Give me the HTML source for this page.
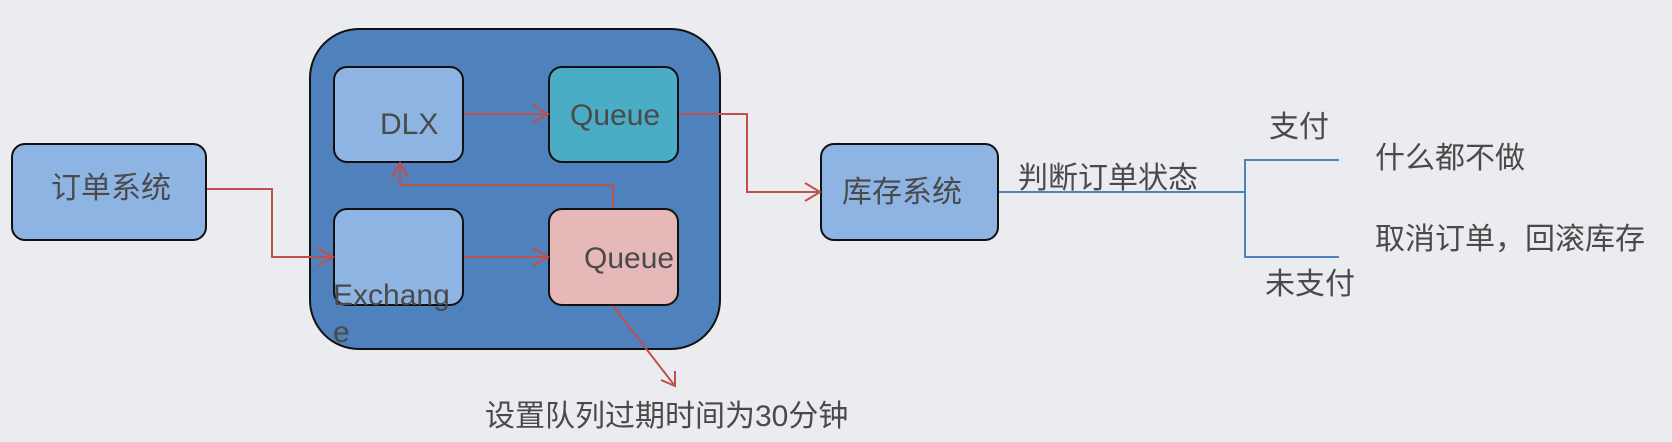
<!DOCTYPE html>
<html><head><meta charset="utf-8"><style>
body{margin:0;width:1672px;height:442px;background:#ebecf0;position:relative;overflow:hidden;font-family:"Liberation Sans","Noto Sans CJK SC",sans-serif;color:#4a4a4a}
.b{position:absolute;border:2px solid #111;border-radius:14px;box-sizing:border-box}
.t{position:absolute;font-size:30px;white-space:nowrap;line-height:1}
</style></head><body>
<div class="b" style="left:309px;top:28px;width:412px;height:322px;background:#4f81bd;border-radius:50px"></div>
<div class="b" style="left:11px;top:143px;width:196px;height:98px;background:#8eb4e3"></div>
<div class="b" style="left:333px;top:66px;width:131px;height:97px;background:#8eb4e3"></div>
<div class="b" style="left:548px;top:66px;width:131px;height:97px;background:#4bacc6"></div>
<div class="b" style="left:333px;top:208px;width:131px;height:98px;background:#8eb4e3"></div>
<div class="b" style="left:548px;top:208px;width:131px;height:98px;background:#e6b9b8"></div>
<div class="b" style="left:820px;top:143px;width:179px;height:98px;background:#8eb4e3"></div>
<svg width="1672" height="442" style="position:absolute;left:0;top:0">
<g fill="none" stroke="#c0504d" stroke-width="2">
<polyline points="207,189 272,189 272,257 333,257"/><polyline points="318,248 333,257 318,266"/>
<polyline points="464,114 548,114"/><polyline points="533,105 548,114 533,123"/>
<polyline points="464,257 548,257"/><polyline points="533,248 548,257 533,266"/>
<polyline points="679,114 747,114 747,192 820,192"/><polyline points="805,183 820,192 805,201"/>
<polyline points="613,208 613,185 400,185 400,163"/><polyline points="391,178 400,163 409,178"/>
<polyline points="613,306 675,386"/><polyline points="661,380 675,386 675,371"/>
</g>
<g fill="none" stroke="#4f81bd" stroke-width="2">
<polyline points="999,192 1245,192"/><polyline points="1339,160 1245,160 1245,257 1339,257"/>
</g>
</svg>
<div class="t" style="left:51px;top:174px">订单系统</div>
<div class="t" style="left:380px;top:110px">DLX</div>
<div class="t" style="left:570px;top:101px">Queue</div>
<div class="t" style="left:584px;top:244px">Queue</div>
<div class="t" style="left:333px;top:281px">Exchang</div>
<div class="t" style="left:333px;top:318px">e</div>
<div class="t" style="left:842px;top:178px">库存系统</div>
<div class="t" style="left:1018px;top:164px">判断订单状态</div>
<div class="t" style="left:1269px;top:113px">支付</div>
<div class="t" style="left:1375px;top:144px">什么都不做</div>
<div class="t" style="left:1375px;top:225px">取消订单，回滚库存</div>
<div class="t" style="left:1265px;top:270px">未支付</div>
<div class="t" style="left:485px;top:402px">设置队列过期时间为30分钟</div>
</body></html>
